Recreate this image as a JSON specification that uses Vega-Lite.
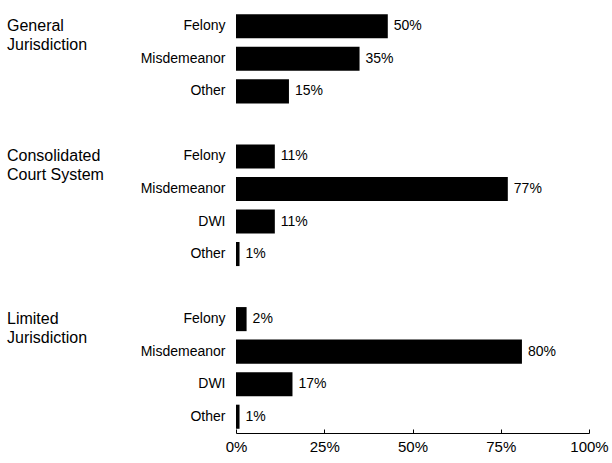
{
  "$schema": "https://vega.github.io/schema/vega-lite/v6.json",
  "padding": {"left": 7, "top": 10, "right": 5, "bottom": 5},
  "config": {"view": {"stroke": null}, "font": "Liberation Sans", "concat": {"spacing": 0}},
  "datasets": {
    "titles": [
      {"id": "01|Felony", "title": "General\nJurisdiction"},
      {"id": "05|Felony", "title": "Consolidated\nCourt System"},
      {"id": "10|Felony", "title": "Limited\nJurisdiction"}
    ],
    "bars": [
      {"id": "01|Felony", "group": "General Jurisdiction", "value": 43, "label": "50%"},
      {"id": "02|Misdemeanor", "group": "General Jurisdiction", "value": 35, "label": "35%"},
      {"id": "03|Other", "group": "General Jurisdiction", "value": 15, "label": "15%"},
      {"id": "05|Felony", "group": "Consolidated Court System", "value": 11, "label": "11%"},
      {"id": "06|Misdemeanor", "group": "Consolidated Court System", "value": 77, "label": "77%"},
      {"id": "07|DWI", "group": "Consolidated Court System", "value": 11, "label": "11%"},
      {"id": "08|Other", "group": "Consolidated Court System", "value": 1, "label": "1%"},
      {"id": "10|Felony", "group": "Limited Jurisdiction", "value": 3, "label": "2%"},
      {"id": "11|Misdemeanor", "group": "Limited Jurisdiction", "value": 81, "label": "80%"},
      {"id": "12|DWI", "group": "Limited Jurisdiction", "value": 16, "label": "17%"},
      {"id": "13|Other", "group": "Limited Jurisdiction", "value": 1, "label": "1%"}
    ]
  },
  "resolve": {"scale": {"x": "independent", "y": "shared"}},
  "hconcat": [
    {
      "width": 129,
      "height": 423,
      "data": {"name": "titles"},
      "mark": {"type": "text", "align": "left", "baseline": "alphabetic", "dy": 5, "fontSize": 16, "lineHeight": 19, "lineBreak": "\n", "color": "black"},
      "encoding": {
        "y": {"field": "id", "type": "nominal", "scale": {"domain": ["01|Felony", "02|Misdemeanor", "03|Other", "04|", "05|Felony", "06|Misdemeanor", "07|DWI", "08|Other", "09|", "10|Felony", "11|Misdemeanor", "12|DWI", "13|Other"], "paddingInner": 0.26, "paddingOuter": 0.13}, "axis": null},
        "x": {"datum": 0, "type": "quantitative", "scale": {"domain": [0, 1]}, "axis": null},
        "text": {"field": "title"}
      }
    },
    {
      "width": 353,
      "height": 423,
      "data": {"name": "bars"},
      "encoding": {
        "y": {"field": "id", "type": "nominal", "scale": {"domain": ["01|Felony", "02|Misdemeanor", "03|Other", "04|", "05|Felony", "06|Misdemeanor", "07|DWI", "08|Other", "09|", "10|Felony", "11|Misdemeanor", "12|DWI", "13|Other"], "paddingInner": 0.26, "paddingOuter": 0.13},
          "axis": {"title": null, "labelExpr": "split(datum.value, '|')[1]", "ticks": false, "domain": false, "labelFontSize": 14, "labelColor": "black", "labelPadding": 11, "minExtent": 100, "maxExtent": 100}},
        "x": {"field": "value", "type": "quantitative", "scale": {"domain": [0, 100]},
          "axis": {"title": null, "values": [0, 25, 50, 75, 100], "labelExpr": "datum.value + '%'", "grid": false, "tickSize": -4, "tickColor": "black", "domainColor": "black", "labelFontSize": 15, "labelColor": "black", "labelPadding": 10, "labelFlush": false}}
      },
      "layer": [
        {"mark": {"type": "bar", "color": "black"}},
        {"mark": {"type": "text", "align": "left", "baseline": "middle", "dx": 6, "fontSize": 14, "color": "black"}, "encoding": {"text": {"field": "label"}}}
      ]
    }
  ]
}
